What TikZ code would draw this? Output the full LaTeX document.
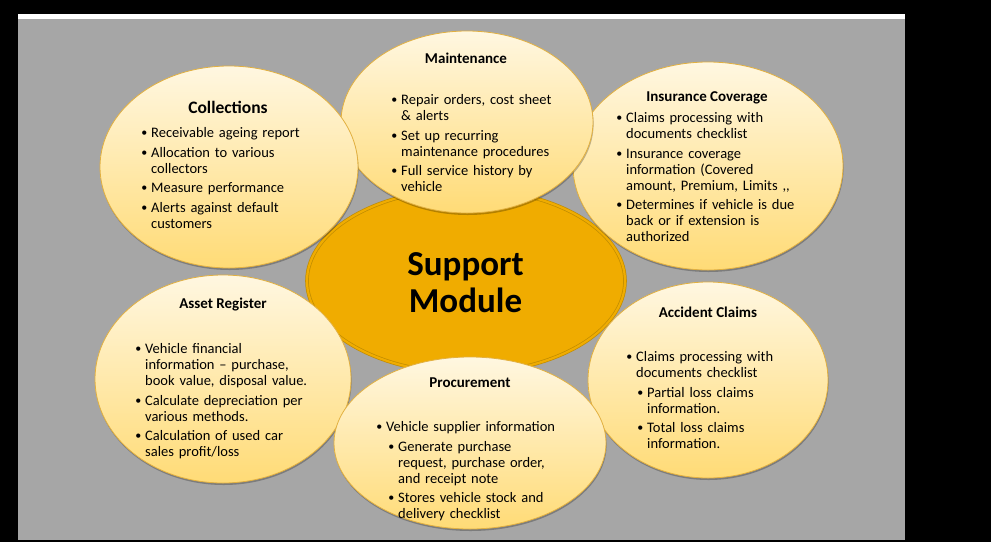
\documentclass[tikz,border=0pt]{standalone}
\usepackage{fontspec}
\setmainfont{Carlito}
\usetikzlibrary{shapes.geometric,shadows}
\definecolor{bggray}{HTML}{A6A6A6}
\definecolor{gold}{HTML}{F0AC00}
\definecolor{goldline}{HTML}{C08C00}
\definecolor{creamtop}{HTML}{FFF7E1}
\definecolor{creambot}{HTML}{FFDB76}
\definecolor{creamline}{HTML}{E2B040}
\newcommand{\bu}{\makebox[9pt][l]{\hspace*{-0.8pt}\raisebox{0.6pt}{\fontsize{12}{12}\selectfont\textbullet}}}
\newcommand{\ind}{\hspace*{9pt}}
\newcommand{\isep}{3.5pt}
\begin{document}
\begin{tikzpicture}[x=1pt,y=-1pt,
  bubble/.style={ellipse, inner sep=0pt, draw=creamline, line width=0.8pt,
    top color=creamtop, bottom color=creambot,
    drop shadow={shadow xshift=0.6pt, shadow yshift=-2pt, opacity=0.25, fill=black}},
  hub/.style={ellipse, inner sep=0pt, fill=gold, draw=goldline, line width=0.7pt,
    double=gold, double distance=2.2pt},
  title/.style={anchor=base, inner sep=0pt, font=\fontsize{15}{18}\selectfont\bfseries},
  body/.style={anchor=base west, inner sep=0pt, text width=240pt, align=left,
    font=\fontsize{14.5}{16}\selectfont}]
\useasboundingbox (0,0) rectangle (991,542);
\fill[black] (0,0) rectangle (991,542);
\fill[white] (18,14) rectangle (905,19);
\fill[bggray] (18,19) rectangle (905,540);

% ellipses
\node[hub, minimum width=318pt, minimum height=184pt] (support) at (466,281) {};
\node[bubble, minimum width=240pt, minimum height=196pt] (accident) at (708,380) {};
\node[bubble, minimum width=256pt, minimum height=208pt] (asset) at (223,379) {};
\node[bubble, minimum width=270pt, minimum height=208pt] (insurance) at (708,166) {};
\node[bubble, minimum width=252pt, minimum height=182pt] (maintenance) at (467,122) {};
\node[bubble, minimum width=258pt, minimum height=202pt] (collections) at (229,167) {};
\node[bubble, minimum width=272pt, minimum height=172pt] (procurement) at (470,443) {};

% hub text
\node[anchor=base, inner sep=0pt, text width=300pt, align=center,
  font=\fontsize{35}{37}\selectfont\bfseries] (supporttxt) at (465.5,275.5) {Support\\Module};

% titles
\node[title, font=\fontsize{17.5}{20}\selectfont\bfseries] (colt) at (228,113.5) {Collections};
\node[title] (maint) at (466,63) {Maintenance};
\node[title] (inst) at (707,101) {Insurance Coverage};
\node[title] (asst) at (223,308) {Asset Register};
\node[title] (acct) at (708,317) {Accident Claims};
\node[title] (prot) at (470,387) {Procurement};

% bodies
\node[body] (colb) at (142,137.5) {\bu Receivable ageing report\\[\isep]
\bu Allocation to various\\
\ind collectors\\[\isep]
\bu Measure performance\\[\isep]
\bu Alerts against default\\
\ind customers};

\node[body] (mainb) at (392,104.5) {\bu Repair orders, cost sheet\\
\ind \& alerts\\[\isep]
\bu Set up recurring\\
\ind maintenance procedures\\[\isep]
\bu Full service history by\\
\ind vehicle};

\node[body] (insb) at (617,122.5) {\bu Claims processing with\\
\ind documents checklist\\[\isep]
\bu Insurance coverage\\
\ind information (Covered\\
\ind amount, Premium, Limits ,{},\\[\isep]
\bu Determines if vehicle is due\\
\ind back or if extension is\\
\ind authorized};

\node[body] (assb) at (136,353.5) {\bu Vehicle financial\\
\ind information -- purchase,\\
\ind book value, disposal value.\\[\isep]
\bu Calculate depreciation per\\
\ind various methods.\\[\isep]
\bu Calculation of used car\\
\ind sales profit/loss};

\node[body] (accb) at (627,361.5) {\bu Claims processing with\\
\ind documents checklist\\[\isep]
\hspace*{11pt}\bu Partial loss claims\\
\hspace*{20pt}information.\\[\isep]
\hspace*{11pt}\bu Total loss claims\\
\hspace*{20pt}information.};

\node[body] (prob) at (377,431.5) {\bu Vehicle supplier information\\[\isep]
\hspace*{12pt}\bu Generate purchase\\
\hspace*{21pt}request, purchase order,\\
\hspace*{21pt}and receipt note\\[\isep]
\hspace*{12pt}\bu Stores vehicle stock and\\
\hspace*{21pt}delivery checklist};
\end{tikzpicture}
\end{document}
